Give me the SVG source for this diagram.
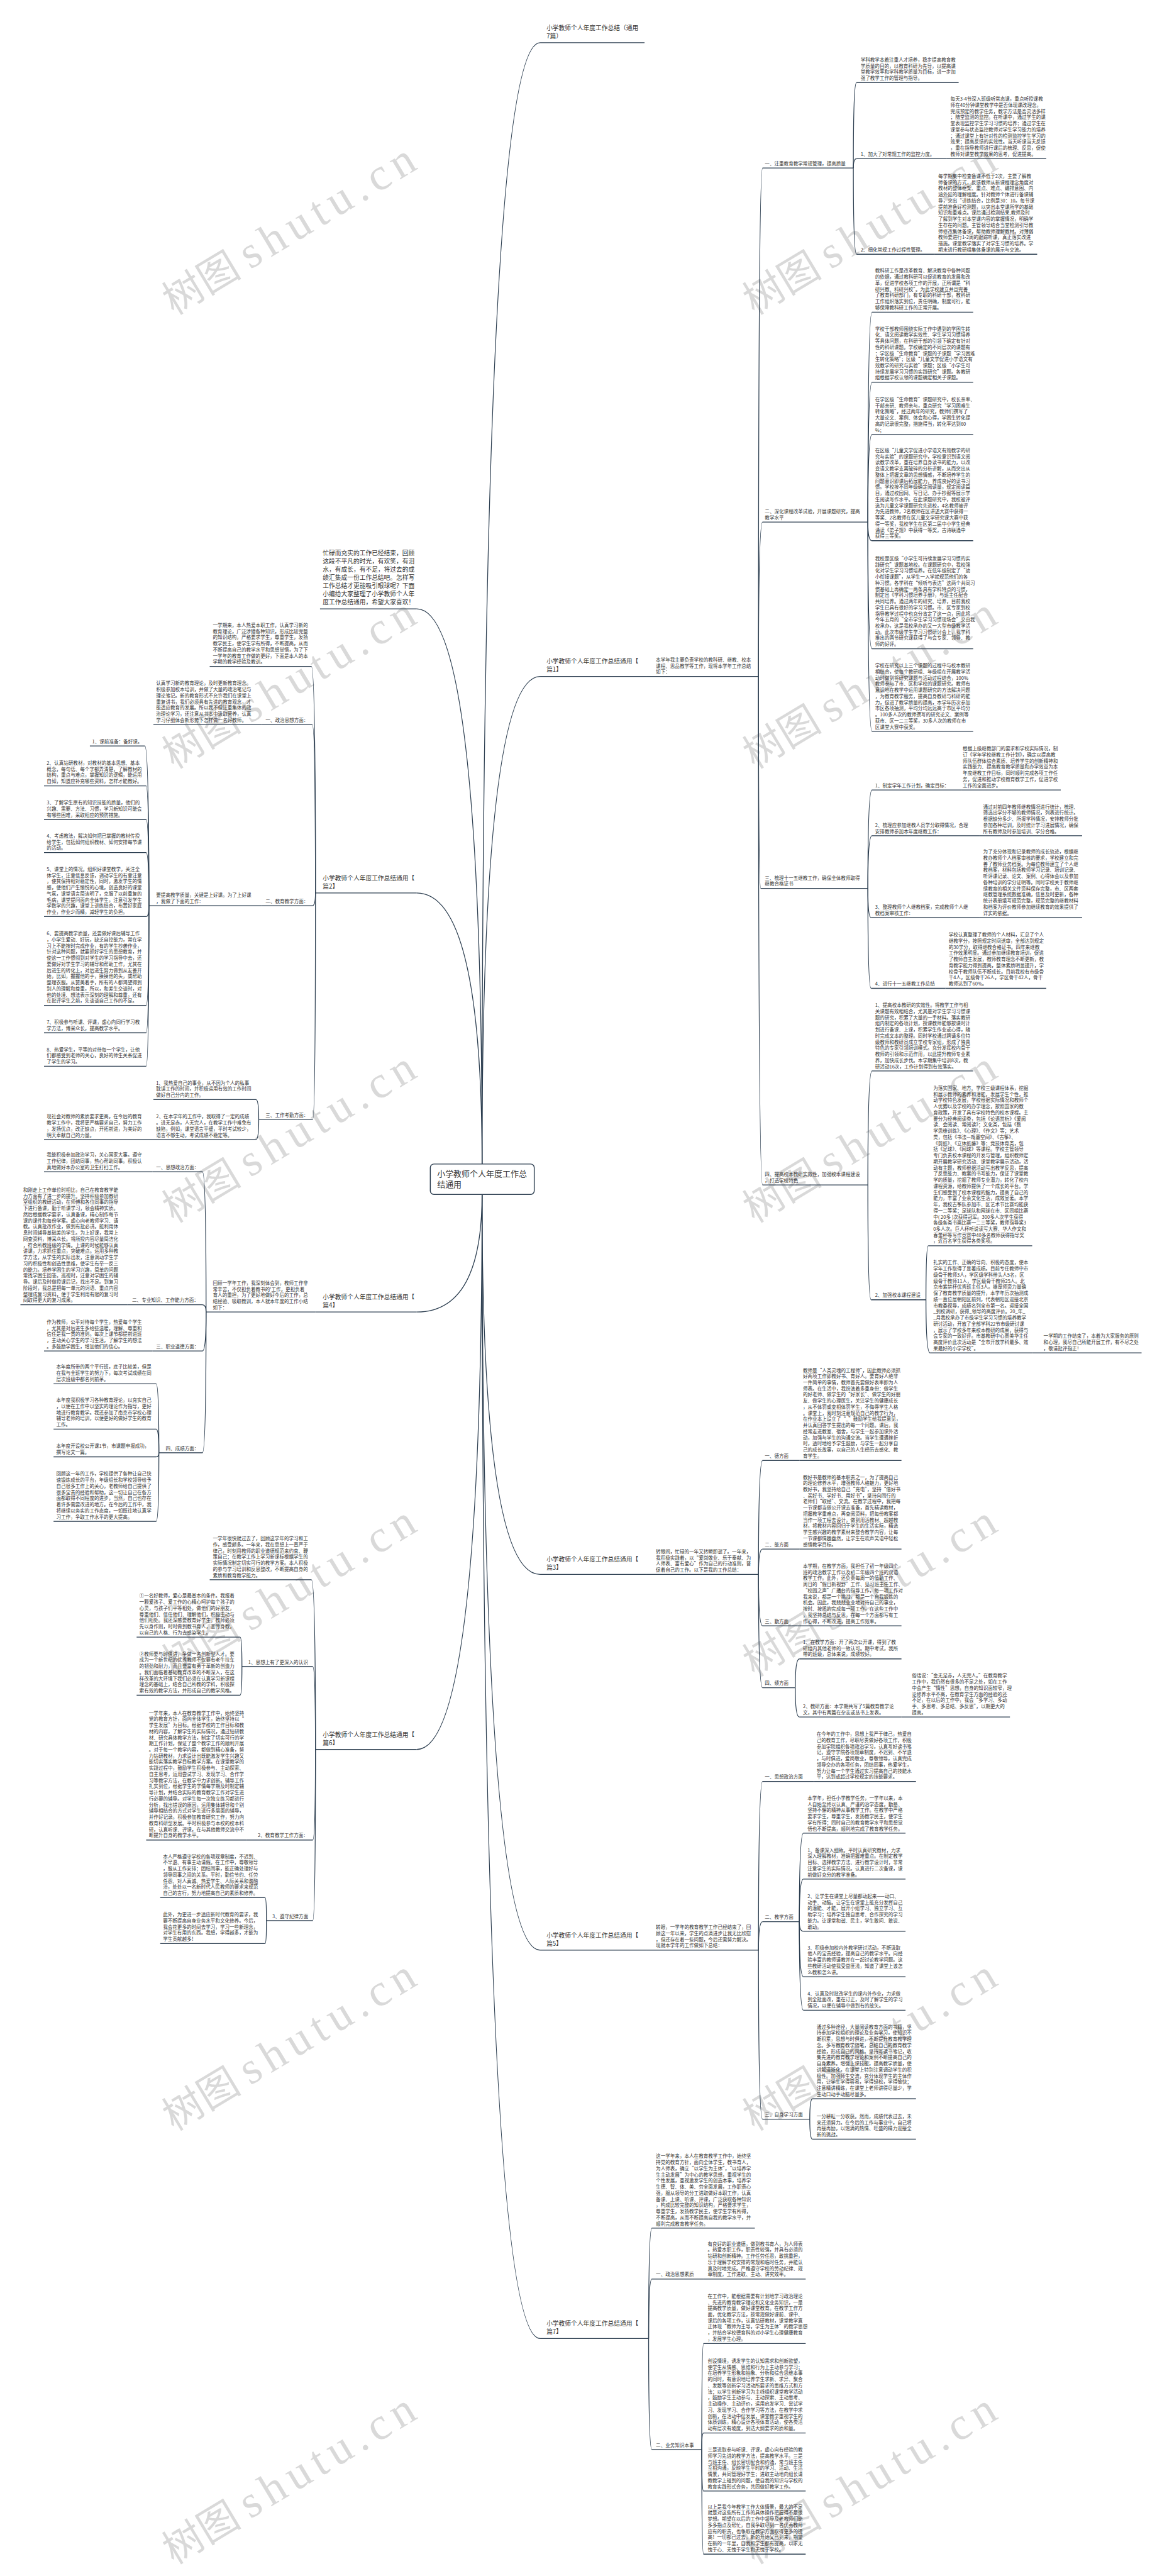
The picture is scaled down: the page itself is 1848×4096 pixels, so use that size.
<svg xmlns="http://www.w3.org/2000/svg" width="1848" height="4096" viewBox="0 0 1848 4096">
<style>
text{font-family:"Noto Sans CJK SC","Noto Sans",sans-serif;fill:#333;font-size:10.5px}
.L{font-size:13.5px}
.C{font-size:18px}
.u,.k{stroke:#2c3e50;stroke-width:1.8;fill:none}
.box{fill:#fff;stroke:#2c3e50;stroke-width:2}
.wm{font-family:"Noto Sans CJK SC",sans-serif;font-size:88px;fill:#d9d9d9}
.wl{font-family:"Liberation Serif",serif;font-size:100px;letter-spacing:14px;fill:#d9d9d9}
</style>
<rect width="1848" height="4096" fill="#fff"/>
<g transform="scale(0.721875)">
<g id="watermark">
<text class="wm" transform="translate(383 695) rotate(-31)">树图<tspan class="wl" dx="20">shutu.cn</tspan></text>
<text class="wm" transform="translate(1662 695) rotate(-31)">树图<tspan class="wl" dx="20">shutu.cn</tspan></text>
<text class="wm" transform="translate(383 1695) rotate(-31)">树图<tspan class="wl" dx="20">shutu.cn</tspan></text>
<text class="wm" transform="translate(1662 1695) rotate(-31)">树图<tspan class="wl" dx="20">shutu.cn</tspan></text>
<text class="wm" transform="translate(383 2695) rotate(-31)">树图<tspan class="wl" dx="20">shutu.cn</tspan></text>
<text class="wm" transform="translate(1662 2695) rotate(-31)">树图<tspan class="wl" dx="20">shutu.cn</tspan></text>
<text class="wm" transform="translate(383 3695) rotate(-31)">树图<tspan class="wl" dx="20">shutu.cn</tspan></text>
<text class="wm" transform="translate(1662 3695) rotate(-31)">树图<tspan class="wl" dx="20">shutu.cn</tspan></text>
<text class="wm" transform="translate(383 4695) rotate(-31)">树图<tspan class="wl" dx="20">shutu.cn</tspan></text>
<text class="wm" transform="translate(1662 4695) rotate(-31)">树图<tspan class="wl" dx="20">shutu.cn</tspan></text>
<text class="wm" transform="translate(383 5650) rotate(-31)">树图<tspan class="wl" dx="20">shutu.cn</tspan></text>
<text class="wm" transform="translate(1662 5650) rotate(-31)">树图<tspan class="wl" dx="20">shutu.cn</tspan></text>
</g>
<g id="connectors" class="k">
<path d="M1062 2564Q1062 94 1190 94"/>
<path d="M1062 2564Q1062 1490 1190 1490"/>
<path d="M1062 2564Q1062 1341 918 1341"/>
<path d="M1062 2564Q1062 1967 918 1967"/>
<path d="M1062 2631Q1062 2890 918 2890"/>
<path d="M1062 2631Q1062 3468 1190 3468"/>
<path d="M1062 2631Q1062 3853.5 918 3853.5"/>
<path d="M1062 2631Q1062 4295.5 1190 4295.5"/>
<path d="M1062 2631Q1062 5151 1190 5151"/>
<path d="M1671 1490Q1671 370 1680 370"/>
<path d="M1671 1490Q1671 1150 1680 1150"/>
<path d="M1671 1490Q1671 1957 1676 1957"/>
<path d="M1671 1490Q1671 2610 1680 2610"/>
<path d="M1880 370Q1880 182 1887 182"/>
<path d="M1880 370Q1880 349.5 1887 349.5"/>
<path d="M1880 370Q1880 560 1887 560"/>
<path d="M1912 1150Q1912 687.5 1921 687.5"/>
<path d="M1912 1150Q1912 842 1921 842"/>
<path d="M1912 1150Q1912 957 1921 957"/>
<path d="M1912 1150Q1912 1191 1921 1191"/>
<path d="M1912 1150Q1912 1429 1921 1429"/>
<path d="M1912 1150Q1912 1611 1921 1611"/>
<path d="M1912 1957Q1912 1740 1921 1740"/>
<path d="M1912 1957Q1912 1841 1921 1841"/>
<path d="M1912 1957Q1912 2021 1919 2021"/>
<path d="M1912 1957Q1912 2177 1919 2177"/>
<path d="M1912 2610Q1912 2359 1921 2359"/>
<path d="M1912 2610Q1912 2863 1919 2863"/>
<path d="M2040 2863Q2040 2744 2045 2744"/>
<path d="M2040 2863Q2040 2980 2049 2980"/>
<path d="M1671 3468Q1671 3217 1680 3217"/>
<path d="M1671 3468Q1671 3412 1680 3412"/>
<path d="M1671 3468Q1671 3581 1680 3581"/>
<path d="M1671 3468Q1671 3717.5 1680 3717.5"/>
<path d="M1752 3717.5Q1752 3654 1761 3654"/>
<path d="M1752 3717.5Q1752 3782 1761 3782"/>
<path d="M1671 4295.5Q1671 3924 1680 3924"/>
<path d="M1671 4295.5Q1671 4233 1680 4233"/>
<path d="M1671 4295.5Q1671 4668 1680 4668"/>
<path d="M1761 4233Q1761 4038 1770 4038"/>
<path d="M1761 4233Q1761 4139 1770 4139"/>
<path d="M1761 4233Q1761 4254 1770 4254"/>
<path d="M1761 4233Q1761 4354 1770 4354"/>
<path d="M1761 4233Q1761 4428 1770 4428"/>
<path d="M1784 4668Q1784 4623 1790 4623"/>
<path d="M1784 4668Q1784 4712 1790 4712"/>
<path d="M1429 5151Q1429 4908 1436 4908"/>
<path d="M1429 5151Q1429 5020 1436 5020"/>
<path d="M1429 5151Q1429 5395.5 1436 5395.5"/>
<path d="M1546 5395.5Q1546 5162 1550 5162"/>
<path d="M1546 5395.5Q1546 5359 1550 5359"/>
<path d="M1546 5395.5Q1546 5487 1550 5487"/>
<path d="M1546 5395.5Q1546 5626 1550 5626"/>
<path d="M695 1967Q695 1468 686 1468"/>
<path d="M695 1967Q695 1596 688 1596"/>
<path d="M695 1967Q695 1995 688 1995"/>
<path d="M695 1967Q695 2465.7 689 2465.7"/>
<path d="M328 1995Q328 1643 319 1643"/>
<path d="M328 1995Q328 1731 322 1731"/>
<path d="M328 1995Q328 1805 322 1805"/>
<path d="M328 1995Q328 1878 322 1878"/>
<path d="M328 1995Q328 2019 322 2019"/>
<path d="M328 1995Q328 2214.5 322 2214.5"/>
<path d="M328 1995Q328 2275 322 2275"/>
<path d="M328 1995Q328 2348.5 322 2348.5"/>
<path d="M570 2465.7Q570 2422 564 2422"/>
<path d="M570 2465.7Q570 2510 564 2510"/>
<path d="M454 2890Q454 2581 446 2581"/>
<path d="M454 2890Q454 2874 446 2874"/>
<path d="M454 2890Q454 2975.7 446 2975.7"/>
<path d="M454 2890Q454 3200 446 3200"/>
<path d="M350 3200Q350 3048 344 3048"/>
<path d="M350 3200Q350 3148 344 3148"/>
<path d="M350 3200Q350 3209 344 3209"/>
<path d="M350 3200Q350 3351 344 3351"/>
<path d="M695 3853.5Q695 3479.6 686 3479.6"/>
<path d="M695 3853.5Q695 3671 689 3671"/>
<path d="M695 3853.5Q695 4053 689 4053"/>
<path d="M695 3853.5Q695 4230.6 689 4230.6"/>
<path d="M533 3671Q533 3606 529 3606"/>
<path d="M533 3671Q533 3734 529 3734"/>
<path d="M587 4230.6Q587 4180 584 4180"/>
<path d="M587 4230.6Q587 4281 584 4281"/>
</g>

<g id="center"><rect class="box" x="948" y="2564" width="229" height="67" rx="8"/><text class="C" x="963" y="2592">小学教师个人年度工作总<tspan x="963" dy="23">结通用</tspan></text></g>

<g id="root1"><text class="L" x="1204" y="66">小学教师个人年度工作总结（通用<tspan x="1204" dy="18">7篇）</tspan></text><path class="u" d="M1190 94H1420"/></g>

<g id="p1"><text class="L" x="1204" y="1462">小学教师个人年度工作总结通用【<tspan x="1204" dy="18">篇1】</tspan></text><path class="u" d="M1190 1490H1424"/></g>
<g id="p1d"><text x="1445" y="1457">本学年我主要负责学校的教科研、继教、校本<tspan x="1445" dy="13.5">课程、思品教学等工作，现将本学年工作总结</tspan><tspan x="1445" dy="13.5">如下：</tspan></text><path class="u" d="M1424 1490H1671"/></g>

<g id="p1a"><text x="1685" y="364">一、注重教育教学常规管理，提高质量</text><path class="u" d="M1680 370H1880"/></g>
<g id="p1a1"><text x="1896" y="135.5">学科教学本着注重人才培养，稳步提高教育教<tspan x="1896" dy="13.5">学质量的目的，以教育科研为先导，以提高课</tspan><tspan x="1896" dy="13.5">堂教学效率和学科教学质量为目标，进一步加</tspan><tspan x="1896" dy="13.5">强了教学工作的管理与指导。</tspan></text><path class="u" d="M1887 182H2112"/></g>
<g id="p1a2"><text x="1896" y="343.5">1、加大了对常规工作的监控力度。</text><path class="u" d="M1887 349.5H2085"/></g>
<g id="p1a2p"><text x="2094" y="222">每天3-4节深入班级听常态课，重点听授课教<tspan x="2094" dy="13.5">师在40分钟课堂教学中是否体现课改理念，</tspan><tspan x="2094" dy="13.5">完成预定的教学任务，教学方法是否灵活多样</tspan><tspan x="2094" dy="13.5">；随堂监测的监控。在听课中，通过学生的课</tspan><tspan x="2094" dy="13.5">堂表现监控学生学习习惯的培养；通过学生在</tspan><tspan x="2094" dy="13.5">课堂参与状态监控教师对学生学习能力的培养</tspan><tspan x="2094" dy="13.5">；通过课堂上有针对性的检测监控学生学习的</tspan><tspan x="2094" dy="13.5">效果；提高反馈的实效性。当天听课当天反馈</tspan><tspan x="2094" dy="13.5">，重在指导教师进行课后的梳理、反思，促使</tspan><tspan x="2094" dy="13.5">教师对课堂教学效果的思考，促进提高。</tspan></text><path class="u" d="M2085 349.5H2305"/></g>
<g id="p1a3"><text x="1896" y="554">2、细化常规工作过程性管理。</text><path class="u" d="M1887 560H2058"/></g>
<g id="p1a3p"><text x="2067" y="392">每学期集中检查备课不低于2次，主要了解教<tspan x="2067" dy="13.5">师备课的方式，反馈教师从新课程理念角度对</tspan><tspan x="2067" dy="13.5">教材的整体框架、重点、难点、编排意图、内</tspan><tspan x="2067" dy="13.5">涵外延的理解程度。针对教师个体进行备课辅</tspan><tspan x="2067" dy="13.5">导，突出“讲练结合，比例是30：10。每节课</tspan><tspan x="2067" dy="13.5">提前准备好检测题，以突出本堂课所学的基础</tspan><tspan x="2067" dy="13.5">知识和重难点。课后通过检测结果,教师及时</tspan><tspan x="2067" dy="13.5">了解到学生对本堂课内容的掌握情况，明确学</tspan><tspan x="2067" dy="13.5">生存在的问题。主管领导结合当堂检测引导教</tspan><tspan x="2067" dy="13.5">师修改集体备课，帮助教师理解教材。对薄弱</tspan><tspan x="2067" dy="13.5">教师要进行1-2周的跟踪听课，真正落实改进</tspan><tspan x="2067" dy="13.5">措施。课堂教学落实了对学生习惯的培养。学</tspan><tspan x="2067" dy="13.5">期末进行教研组集体备课的展示与交流。</tspan></text><path class="u" d="M2058 560H2285"/></g>

<g id="p1b"><text x="1685" y="1130.5">二、深化课程改革试验，开展课题研究，提高<tspan x="1685" dy="13.5">教学水平</tspan></text><path class="u" d="M1680 1150H1912"/></g>
<g id="p1b1"><text x="1928" y="600.5">教科研工作是改革教育、解决教育中各种问题<tspan x="1928" dy="13.5">的依据，通过教科研可以促进教育的发展和改</tspan><tspan x="1928" dy="13.5">革，促进学校各项工作的开展，正所谓是“科</tspan><tspan x="1928" dy="13.5">研兴教、科研兴校”。为此学校建立并且完善</tspan><tspan x="1928" dy="13.5">了教育科研部门，有专职的科研干部，教科研</tspan><tspan x="1928" dy="13.5">工作组织落实到位，责任明确，制度可行，能</tspan><tspan x="1928" dy="13.5">够保障教科研工作的正常开展。</tspan></text><path class="u" d="M1921 687.5H2144"/></g>
<g id="p1b2"><text x="1928" y="728">学校干部教师围绕实际工作中遇到的学困生转<tspan x="1928" dy="13.5">化、语文阅读教学实效性、学生学习习惯培养</tspan><tspan x="1928" dy="13.5">等具体问题，在科研干部的引领下确定有针对</tspan><tspan x="1928" dy="13.5">性的科研课题。学校确定的不同层次的课题有</tspan><tspan x="1928" dy="13.5">；学区级“生命教育”课题的子课题“学习困难</tspan><tspan x="1928" dy="13.5">生转化策略”；区级“儿童文学促进小学语文有</tspan><tspan x="1928" dy="13.5">效教学的研究与实验”课题；区级“小学生可</tspan><tspan x="1928" dy="13.5">持续发展学习习惯的实践研究”课题。各教研</tspan><tspan x="1928" dy="13.5">组根据学校认领的课题确定相关子课题。</tspan></text><path class="u" d="M1921 842H2144"/></g>
<g id="p1b3"><text x="1928" y="883.5">在学区级“生命教育”课题研究中，校长亲率、<tspan x="1928" dy="13.5">干部亲研、教师亲与，重点研究“学习困难生</tspan><tspan x="1928" dy="13.5">转化策略”，经过两年的研究，教师们撰写了</tspan><tspan x="1928" dy="13.5">大量论文、案例、体会和心得，学困生转化提</tspan><tspan x="1928" dy="13.5">高的记录很完整，措施得当，转化率达到60</tspan><tspan x="1928" dy="13.5">%；</tspan></text><path class="u" d="M1921 957H2144"/></g>
<g id="p1b4"><text x="1928" y="996">在区级“儿童文学促进小学语文有效教学的研<tspan x="1928" dy="13.5">究与实验”的课题研究中，学校意识到语文阅</tspan><tspan x="1928" dy="13.5">读教学改革，重在培养自身读书的能力，以改</tspan><tspan x="1928" dy="13.5">变语文教学支离破碎的分析讲解，从而突出从</tspan><tspan x="1928" dy="13.5">整体上把握文章的思想情感，不断培养学生的</tspan><tspan x="1928" dy="13.5">问题意识即课后拓展能力，养成良好的读书习</tspan><tspan x="1928" dy="13.5">惯。学校按不同年级确定阅读量，规定阅读篇</tspan><tspan x="1928" dy="13.5">目，通过校园网、写日记、办手抄报等展示学</tspan><tspan x="1928" dy="13.5">生阅读写作水平。在此课题研究中，我校被评</tspan><tspan x="1928" dy="13.5">选为儿童文学课题研究先进校，4名教师被评</tspan><tspan x="1928" dy="13.5">为先进教师，2名教师在区讲述大赛中获得一</tspan><tspan x="1928" dy="13.5">等奖、2名教师在区儿童文学研究课大赛中获</tspan><tspan x="1928" dy="13.5">得一等奖，我校学生在区第二届中小学生经典</tspan><tspan x="1928" dy="13.5">诵读《弟子规》中获得一等奖，古诗联通中</tspan><tspan x="1928" dy="13.5">获得三等奖。</tspan></text><path class="u" d="M1921 1191H2144"/></g>
<g id="p1b5"><text x="1928" y="1234">我校是区级“小学生可持续发展学习习惯的实<tspan x="1928" dy="13.5">践研究”课题基地校。在课题研究中，我校强</tspan><tspan x="1928" dy="13.5">化对学生学习习惯培养。在低年级制定了“幼</tspan><tspan x="1928" dy="13.5">小衔接课题”，从学生一入学就规范他们的各</tspan><tspan x="1928" dy="13.5">种习惯。各学科在“倾听与表达”这两个共同习</tspan><tspan x="1928" dy="13.5">惯基础上再确定一两条具有学科特点的习惯，</tspan><tspan x="1928" dy="13.5">制定出《学科习惯培养手册》，与班主任配合</tspan><tspan x="1928" dy="13.5">共同培养。通过两年的研究、培养，目前我校</tspan><tspan x="1928" dy="13.5">学生已具有很好的学习习惯。市、区专家到校</tspan><tspan x="1928" dy="13.5">指导教学过程中也充分肯定了这一点，因此将</tspan><tspan x="1928" dy="13.5">今年五月的“全市学生学习习惯现场会”交由我</tspan><tspan x="1928" dy="13.5">校承办，这是我校承办的又一大型市级教学活</tspan><tspan x="1928" dy="13.5">动。此次市级学生学习习惯研讨会上，我学科</tspan><tspan x="1928" dy="13.5">推出的两节研究课获得了与会专家、领导、教</tspan><tspan x="1928" dy="13.5">师的好评。</tspan></text><path class="u" d="M1921 1429H2144"/></g>
<g id="p1b6"><text x="1928" y="1470">学校在研究以上三个课题的过程中与校本教研<tspan x="1928" dy="13.5">相结合，使每个教研组、年级组在开展教学活</tspan><tspan x="1928" dy="13.5">动时做到将研究课题与活动过程结合，100%</tspan><tspan x="1928" dy="13.5">教师参与了市、区和学校的课题研究。教师有</tspan><tspan x="1928" dy="13.5">意识地在教学中运用课题研究的方法解决问题</tspan><tspan x="1928" dy="13.5">，为教育教学服务，提高自身教研与科研的能</tspan><tspan x="1928" dy="13.5">力，促进了教学质量的提高，本学年历次参加</tspan><tspan x="1928" dy="13.5">市区各项抽测，平均分均远远高于市区平均分</tspan><tspan x="1928" dy="13.5">。100多人次的教师撰写的研究论文、案例等</tspan><tspan x="1928" dy="13.5">获市、区一二三等奖，30多人次的教师在市</tspan><tspan x="1928" dy="13.5">区课堂大赛中获奖。</tspan></text><path class="u" d="M1921 1611H2144"/></g>

<g id="p1c"><text x="1685" y="1937.5">三、梳理十一五继教工作，确保全体教师取得<tspan x="1685" dy="13.5">继教合格证书</tspan></text><path class="u" d="M1676 1957H1912"/></g>
<g id="p1c1"><text x="1928" y="1734">1、制定学年工作计划，确定目标：</text><path class="u" d="M1921 1740H2117"/></g>
<g id="p1c1p"><text x="2121" y="1653">根据上级继教部门的要求和学校实际情况，制<tspan x="2121" dy="13.5">订《学年学校继教工作计划》，确定以提高教</tspan><tspan x="2121" dy="13.5">师队伍群体综合素质、培养学生的创新精神和</tspan><tspan x="2121" dy="13.5">实践能力、提高教育教学质量和办学效益为本</tspan><tspan x="2121" dy="13.5">年度继教工作目标，同时顺利完成各项工作任</tspan><tspan x="2121" dy="13.5">务，促进和推动学校教育教学工作，促进学校</tspan><tspan x="2121" dy="13.5">工作的全面进步。</tspan></text><path class="u" d="M2117 1740H2337"/></g>
<g id="p1c2"><text x="1928" y="1821.5">2、梳理应参加继教人员学分取得情况，合理<tspan x="1928" dy="13.5">安排教师参加本年度继教工作：</tspan></text><path class="u" d="M1921 1841H2157"/></g>
<g id="p1c2p"><text x="2166" y="1781">通过对前四年教师继教情况进行统计，梳理、<tspan x="2166" dy="13.5">筛选出学分不够的教师情况，列表进行统计。</tspan><tspan x="2166" dy="13.5">根据缺分多少、所报学科情况，安排教师分批</tspan><tspan x="2166" dy="13.5">参加各种培训，及时统计学习进展情况，确保</tspan><tspan x="2166" dy="13.5">所有教师及时参加培训、学分合格。</tspan></text><path class="u" d="M2157 1841H2384"/></g>
<g id="p1c3"><text x="1928" y="2001.5">3、整理教师个人继教档案，完成教师个人继<tspan x="1928" dy="13.5">教档案审核工作：</tspan></text><path class="u" d="M1919 2021H2157"/></g>
<g id="p1c3p"><text x="2166" y="1880">为了充分体现和记录教师的成长轨迹，根据继<tspan x="2166" dy="13.5">教办教师个人档案审核的要求，学校建立和完</tspan><tspan x="2166" dy="13.5">善了教师业务档案。为每位教师建立了个人继</tspan><tspan x="2166" dy="13.5">教档案，材料包括教师学习记录、培训记录、</tspan><tspan x="2166" dy="13.5">听评课记录、论文、案例、心得体会以及参加</tspan><tspan x="2166" dy="13.5">各种培训的学分证明等。同时学校关于教师继</tspan><tspan x="2166" dy="13.5">续教育的相关文件资料保存完整，市、区两套</tspan><tspan x="2166" dy="13.5">继教管理系统数据准确，信息及时更新，各种</tspan><tspan x="2166" dy="13.5">统计表册填写规范完整，规范完整的继教材料</tspan><tspan x="2166" dy="13.5">和档案为评价教师参加继续教育的效果提供了</tspan><tspan x="2166" dy="13.5">详实的依据。</tspan></text><path class="u" d="M2157 2021H2384"/></g>
<g id="p1c4"><text x="1928" y="2171">4、进行十一五继教工作总结</text><path class="u" d="M1919 2177H2083"/></g>
<g id="p1c4p"><text x="2090" y="2063">学校认真整理了教师的个人材料，汇总了个人<tspan x="2090" dy="13.5">继教学分，按照规定时间送审，全部达到规定</tspan><tspan x="2090" dy="13.5">的30学分，取得继教合格证书。四年来继教</tspan><tspan x="2090" dy="13.5">工作效果明显。通过参加继续教育培训，促进</tspan><tspan x="2090" dy="13.5">了教师自主发展，教师教育理念不断更新，教</tspan><tspan x="2090" dy="13.5">育教学能力得到提高，整体素质明显提升，学</tspan><tspan x="2090" dy="13.5">校骨干教师队伍不断成长。目前我校有市级骨</tspan><tspan x="2090" dy="13.5">干4人，区级骨干26人，学区骨干42人，骨干</tspan><tspan x="2090" dy="13.5">教师达到了60%。</tspan></text><path class="u" d="M2083 2177H2305"/></g>

<g id="p1d0"><text x="1685" y="2590.5">四、提高校本教研实效性，加强校本课程建设<tspan x="1685" dy="13.5">，打造学校特色</tspan></text><path class="u" d="M1680 2610H1912"/></g>
<g id="p1d1"><text x="1928" y="2218">1、提高校本教研的实效性。将教学工作与相<tspan x="1928" dy="13.5">关课题有效相结合，尤其是对学生学习习惯课</tspan><tspan x="1928" dy="13.5">题的研究，积累了大量的一手材料。落实教研</tspan><tspan x="1928" dy="13.5">组内制定的各项计划，授课教师能够按课时计</tspan><tspan x="1928" dy="13.5">划进行备课、上课，积累学生作业或心得，随</tspan><tspan x="1928" dy="13.5">时完成文本的整理。同时学校通过聘请多位特</tspan><tspan x="1928" dy="13.5">级教师和教研员成立学校专家组，形成了独具</tspan><tspan x="1928" dy="13.5">特色的专家引领培训模式。充分发挥校内骨干</tspan><tspan x="1928" dy="13.5">教师的引领和示范作用，以此提升教师专业素</tspan><tspan x="1928" dy="13.5">养，加快成长步伐。本学期集中培训8次，教</tspan><tspan x="1928" dy="13.5">研活动16次，工作计划得到有效落实。</tspan></text><path class="u" d="M1921 2359H2144"/></g>
<g id="p1d2"><text x="1928" y="2857">2、加强校本课程建设</text><path class="u" d="M1919 2863H2040"/></g>
<g id="p1d2a"><text x="2056" y="2400.5">为落实国家、地方、学校三级课程体系，挖掘<tspan x="2056" dy="13.5">和展示教师的素养和潜能，发展学生个性，推</tspan><tspan x="2056" dy="13.5">动学校特色发展，学校根据实际情况和教师个</tspan><tspan x="2056" dy="13.5">人优势以及学校的办学理念，按照国家的教</tspan><tspan x="2056" dy="13.5">育政策，开发了具有学校特色的校本课程。主</tspan><tspan x="2056" dy="13.5">要分为经典阅读类，包括《论语赏析》《爱阅</tspan><tspan x="2056" dy="13.5">读、会阅读、常阅读》；文化类，包括《数</tspan><tspan x="2056" dy="13.5">学思维训练》、《心理》、《作文》等；艺术</tspan><tspan x="2056" dy="13.5">类，包括《书法—戏墨空间》、《古筝》、</tspan><tspan x="2056" dy="13.5">《剪纸》、《立体纸藤》等；竞技体育类，包</tspan><tspan x="2056" dy="13.5">括《足球》、《网球》等课程。学校主管领导</tspan><tspan x="2056" dy="13.5">专门负责校本课程的开发与管理，组织教师定</tspan><tspan x="2056" dy="13.5">期开展教学研究活动、课堂教学展示活动，活</tspan><tspan x="2056" dy="13.5">动有主题，教师根据活动写出教学反思，提高</tspan><tspan x="2056" dy="13.5">了反思能力、教案的书写能力，保证了课堂教</tspan><tspan x="2056" dy="13.5">学的质量，挖掘了教师专业潜力，转化了校内</tspan><tspan x="2056" dy="13.5">课程资源，给教师提供了一个成长的平台。学</tspan><tspan x="2056" dy="13.5">生们感受到了校本课程的魅力，提高了自己的</tspan><tspan x="2056" dy="13.5">能力，丰富了业余文化生活，成效显著。本学</tspan><tspan x="2056" dy="13.5">年，我校古筝队参加市、区艺术节比赛均能获</tspan><tspan x="2056" dy="13.5">得一二等奖；足球队和网球在市、区同组比赛</tspan><tspan x="2056" dy="13.5">中( 20多 )次获得冠军。300多人次学生获得</tspan><tspan x="2056" dy="13.5">各级各类书画比赛一二三等奖，教师指导奖3</tspan><tspan x="2056" dy="13.5">0多人次。巨人杯听说读写大赛、华人作文和</tspan><tspan x="2056" dy="13.5">春蕾杯等写作竞赛中40多名教师获得指导奖</tspan><tspan x="2056" dy="13.5">，近百名学生获得各类奖项。</tspan></text><path class="u" d="M2045 2744H2274"/></g>
<g id="p1d2b"><text x="2056" y="2785">扎实的工作、正确的导向、积极的态度，使本<tspan x="2056" dy="13.5">学年工作取得了显著成绩。目前专任教师中市</tspan><tspan x="2056" dy="13.5">级骨干教师3人，学区级学科带头人5名，区</tspan><tspan x="2056" dy="13.5">级骨干教师11人，学区级骨干教师25人。北</tspan><tspan x="2056" dy="13.5">京市紫禁杯优秀班主任3人。雄厚师资力量确</tspan><tspan x="2056" dy="13.5">保了教育教学质量的提升，本学年历次抽测成</tspan><tspan x="2056" dy="13.5">绩一直位居朝阳区前列，代表朝阳区迎接北京</tspan><tspan x="2056" dy="13.5">市教委视导，成绩名列全市第一名。迎接全国</tspan><tspan x="2056" dy="13.5">_到校调研，获得_领导的高度评价。20_年_</tspan><tspan x="2056" dy="13.5">_月我校承办了市级学生学习习惯的培养教学</tspan><tspan x="2056" dy="13.5">研讨活动，开放了全部学科22节市级研讨课</tspan><tspan x="2056" dy="13.5">，展示了学校多年来校本教研的成果，获得与</tspan><tspan x="2056" dy="13.5">会专家的一致好评。市基教研中心贾美华主任</tspan><tspan x="2056" dy="13.5">高度评价此次活动是“全市开放学科最多、效</tspan><tspan x="2056" dy="13.5">果最好的小学学校”。</tspan></text><path class="u" d="M2049 2980H2274"/></g>
<g id="p1d2c"><text x="2299" y="2947">一学期的工作结束了，本着为大家服务的原则<tspan x="2299" dy="13.5">和心理，我尽自己所能开展工作，有不尽之处</tspan><tspan x="2299" dy="13.5">，敬请批评指正！</tspan></text><path class="u" d="M2274 2980H2515"/></g>

<g id="p3"><text class="L" x="1204" y="3440">小学教师个人年度工作总结通用【<tspan x="1204" dy="18">篇3】</tspan></text><path class="u" d="M1190 3468H1424"/></g>
<g id="p3d"><text x="1445" y="3421.5">转眼间，忙碌的一年又转瞬即逝了。一年来，<tspan x="1445" dy="13.5">我积极实践着，以“爱岗敬业、乐于奉献、为</tspan><tspan x="1445" dy="13.5">人师表、富有爱心”作为自己的行动准则，督</tspan><tspan x="1445" dy="13.5">促着自己的工作。以下是我的工作总结：</tspan></text><path class="u" d="M1424 3468H1671"/></g>
<g id="p3a"><text x="1685" y="3211">一、德方面</text><path class="u" d="M1680 3217H1761"/></g>
<g id="p3ap"><text x="1769" y="3022">教师是“人类灵魂的工程师”，因此教师必须抓<tspan x="1769" dy="13.5">好两项工作即教好书、育好人。要育好人绝非</tspan><tspan x="1769" dy="13.5">一件简单的事情，教师首先要做好表率即为人</tspan><tspan x="1769" dy="13.5">师表。在生活中，我扮演着多重身份：做学生</tspan><tspan x="1769" dy="13.5">的好老师、做学生的“好家长”、做学生的好朋</tspan><tspan x="1769" dy="13.5">友、做学生的心理医生，关注学生的健康成长</tspan><tspan x="1769" dy="13.5">，从不体罚或变相体罚学生，不侮辱学生人格</tspan><tspan x="1769" dy="13.5">。课堂上，我时刻注意规范自己的教学行为，</tspan><tspan x="1769" dy="13.5">在作业本上设立了“_”鼓励学生给我提意见，</tspan><tspan x="1769" dy="13.5">并认真回答学生提出的每一个问题。课后，我</tspan><tspan x="1769" dy="13.5">经常走进教室、宿舍，与学生一起参加课外活</tspan><tspan x="1769" dy="13.5">动，加强与学生的沟通交流。当学生遭遇挫折</tspan><tspan x="1769" dy="13.5">时，适时地给予学生鼓励，与学生一起分享自</tspan><tspan x="1769" dy="13.5">己的成长故事，以自己的人生经历去感化、教</tspan><tspan x="1769" dy="13.5">育学生。</tspan></text><path class="u" d="M1761 3217H1986"/></g>
<g id="p3b"><text x="1685" y="3406">二、能方面</text><path class="u" d="M1680 3412H1761"/></g>
<g id="p3bp"><text x="1769" y="3257.5">教好书是教师的基本职责之一，为了提高自己<tspan x="1769" dy="13.5">的理论修养水平，增强教师人格魅力，更好地</tspan><tspan x="1769" dy="13.5">教好书，我坚持给自己“充电”，坚持“借好书</tspan><tspan x="1769" dy="13.5">、买好书、学好书、用好书”，坚持向同行的</tspan><tspan x="1769" dy="13.5">老师们“取经”、交流。在教学过程中，我把每</tspan><tspan x="1769" dy="13.5">一节课都当做公开课去准备，首先精读教材，</tspan><tspan x="1769" dy="13.5">把握教学重难点，再查阅资料，把每份教案都</tspan><tspan x="1769" dy="13.5">当作一项工程去设计，做到用活教材、超越教</tspan><tspan x="1769" dy="13.5">材，将教材内容回归于学生的生活实际，精选</tspan><tspan x="1769" dy="13.5">学生感兴趣的教学素材来整合教学内容，让每</tspan><tspan x="1769" dy="13.5">一节课都情趣盎然，让学生在欢声笑语中轻松</tspan><tspan x="1769" dy="13.5">感悟教学目标。</tspan></text><path class="u" d="M1761 3412H1986"/></g>
<g id="p3c"><text x="1685" y="3575">三、勤方面</text><path class="u" d="M1680 3581H1761"/></g>
<g id="p3cp"><text x="1769" y="3453.5">本学期，在教学方面，我担任了初一年级四个<tspan x="1769" dy="13.5">班的政治教学工作以及初二年级四个班的双语</tspan><tspan x="1769" dy="13.5">教学工作。此外，还负责每周一的值勤工作、</tspan><tspan x="1769" dy="13.5">周日的“假日新视野”工作、见习班主任工作、</tspan><tspan x="1769" dy="13.5">“校园之声”广播台的指导工作，每一项工作对</tspan><tspan x="1769" dy="13.5">我来说，都是一个挑战，都是一个自我锻炼的</tspan><tspan x="1769" dy="13.5">机会。因此，我兢兢业业地对待自己的事业，</tspan><tspan x="1769" dy="13.5">按时、按质的完成每一项工作，在这些工作中</tspan><tspan x="1769" dy="13.5">，我坚持总结与反思，在每一个方面都写有工</tspan><tspan x="1769" dy="13.5">作心得，不断改进，提高工作效率。</tspan></text><path class="u" d="M1761 3581H1986"/></g>
<g id="p3e"><text x="1685" y="3711.5">四、绩方面</text><path class="u" d="M1680 3717.5H1752"/></g>
<g id="p3e1"><text x="1769" y="3621">1、在教学方面：开了两次公开课，得到了教<tspan x="1769" dy="13.5">研组内其他老师的一致认可。期中考试，我所</tspan><tspan x="1769" dy="13.5">带的班级，总体来说，成绩较好。</tspan></text><path class="u" d="M1761 3654H1986"/></g>
<g id="p3e2"><text x="1769" y="3762.5">2、教研方面：本学期共写了5篇教育教学论<tspan x="1769" dy="13.5">文，其中有两篇在杂志或丛书上发表。</tspan></text><path class="u" d="M1761 3782H1986"/></g>
<g id="p3e2p"><text x="2009" y="3695">俗话说：“金无足赤，人无完人。”在教育教学<tspan x="2009" dy="13.5">工作中，我仍然有很多的不足之处，如在工作</tspan><tspan x="2009" dy="13.5">中会产生“惰性”思想，自身的知识面较窄，理</tspan><tspan x="2009" dy="13.5">论修养水平不高，在教育学生方面的经验的还</tspan><tspan x="2009" dy="13.5">不足，在以后的工作中，我会“多学习、多动</tspan><tspan x="2009" dy="13.5">手、多思考、多总结、多反思”，以期更大的</tspan><tspan x="2009" dy="13.5">提高。</tspan></text><path class="u" d="M1986 3782H2225"/></g>

<g id="p5"><text class="L" x="1204" y="4267.5">小学教师个人年度工作总结通用【<tspan x="1204" dy="18">篇5】</tspan></text><path class="u" d="M1190 4295.5H1424"/></g>
<g id="p5d"><text x="1445" y="4249">转眼，一学年的教育教学工作已经结束了，回<tspan x="1445" dy="13.5">顾这一年以来，学生的点滴进步让我无比欣慰</tspan><tspan x="1445" dy="13.5">，但还存在着一些问题，今后还需努力解决。</tspan><tspan x="1445" dy="13.5">现就本学年的工作做如下总结：</tspan></text><path class="u" d="M1424 4295.5H1671"/></g>
<g id="p5a"><text x="1685" y="3918">一、思想政治方面</text><path class="u" d="M1680 3924H1793"/></g>
<g id="p5ap"><text x="1799" y="3823.5">在今年的工作中，思想上我严于律己，热爱自<tspan x="1799" dy="13.5">己的教育工作，尽职尽责做好各项工作，积极</tspan><tspan x="1799" dy="13.5">参加学院组织各项政治学习，认真写好读书笔</tspan><tspan x="1799" dy="13.5">记，遵守学院各项规章制度，不迟到、不早退</tspan><tspan x="1799" dy="13.5">，与时俱进，爱岗敬业，尊敬领导，认真完成</tspan><tspan x="1799" dy="13.5">领导交办的各项任务，团结同事，热爱学生，</tspan><tspan x="1799" dy="13.5">努力让每一个学生通过实习提高自己的技能水</tspan><tspan x="1799" dy="13.5">平，达到或超过学校规定的技能要求。</tspan></text><path class="u" d="M1793 3924H2018"/></g>
<g id="p5b"><text x="1685" y="4227">二、教学方面</text><path class="u" d="M1680 4233H1761"/></g>
<g id="p5b1"><text x="1779" y="3964.5">本学年，担任小学教学任务，一学年以来，本<tspan x="1779" dy="13.5">人自始至终以认真、严谨的治学态度，勤恳、</tspan><tspan x="1779" dy="13.5">坚持不懈的精神从事教学工作。在教学中严格</tspan><tspan x="1779" dy="13.5">要求学生，尊重学生，发扬教学民主，使学生</tspan><tspan x="1779" dy="13.5">学有所得；同时自己的教育教学水平和思想觉</tspan><tspan x="1779" dy="13.5">悟也不断提高，顺利地完成了教育教学任务。</tspan></text><path class="u" d="M1770 4038H1995"/></g>
<g id="p5b2"><text x="1779" y="4079">1、备课深入细致。平时认真研究教材，力求<tspan x="1779" dy="13.5">深入理解教材，准确把握难重点。在制定教学</tspan><tspan x="1779" dy="13.5">目标、选择教学方法、进行教学设计时，非常</tspan><tspan x="1779" dy="13.5">注意学生的实际情况。认真进行二次备课，课</tspan><tspan x="1779" dy="13.5">前做好充分的教学准备。</tspan></text><path class="u" d="M1770 4139H1995"/></g>
<g id="p5b3"><text x="1779" y="4180.5">2、让学生在课堂上尽量都动起来——动口、<tspan x="1779" dy="13.5">动手、动脑。让学生在课堂上能充分发挥自己</tspan><tspan x="1779" dy="13.5">的潜能、才能，展开小组学习、独立学习、互</tspan><tspan x="1779" dy="13.5">助学习；培养学生独自思考、合作探究的学习</tspan><tspan x="1779" dy="13.5">能力。让课堂和谐、民主，学生敢问、敢说、</tspan><tspan x="1779" dy="13.5">敢动。</tspan></text><path class="u" d="M1770 4254H1995"/></g>
<g id="p5b4"><text x="1779" y="4294">3、积极参加校内外教学研讨活动，不断汲取<tspan x="1779" dy="13.5">他人的宝贵经验，提高自己的教学水平。向经</tspan><tspan x="1779" dy="13.5">验丰富的教师请教并在一起讨论教学问题。这</tspan><tspan x="1779" dy="13.5">些教研活动使我受益匪浅，知道了课堂上该怎</tspan><tspan x="1779" dy="13.5">么教和怎么讲。</tspan></text><path class="u" d="M1770 4354H1995"/></g>
<g id="p5b5"><text x="1779" y="4395">4、认真及时批改学生的课内外作业，力求做<tspan x="1779" dy="13.5">到全批面改，重在订正，及时了解学生的学习</tspan><tspan x="1779" dy="13.5">情况，以便在辅导中做到有的放矢。</tspan></text><path class="u" d="M1770 4428H1995"/></g>
<g id="p5c"><text x="1685" y="4662">三、自身学习方面</text><path class="u" d="M1680 4668H1784"/></g>
<g id="p5c1"><text x="1799" y="4468.5">通过多种途径，大量阅读教育方面的书籍，坚<tspan x="1799" dy="13.5">持参加学校组织的理论及业务学习，使知识不</tspan><tspan x="1799" dy="13.5">断积累，思想与时俱进，不断提升教育教学理</tspan><tspan x="1799" dy="13.5">念。多写教育教学随笔，总结自己的教育教学</tspan><tspan x="1799" dy="13.5">经验，形成自己的风格。坚持写读书笔记，收</tspan><tspan x="1799" dy="13.5">集先进的教育教学理论和案例不断提高自己的</tspan><tspan x="1799" dy="13.5">自身素养。增强上课技能，提高教学质量，使</tspan><tspan x="1799" dy="13.5">讲解清晰化，在课堂上特别注意调动学生的积</tspan><tspan x="1799" dy="13.5">极性。加强师生交流，充分体现学生的主体作</tspan><tspan x="1799" dy="13.5">用，让学生学得容易，学得轻松，学得愉快；</tspan><tspan x="1799" dy="13.5">注意精讲精练，在课堂上老师讲得尽量少，学</tspan><tspan x="1799" dy="13.5">生动口动手动脑尽量多。</tspan></text><path class="u" d="M1790 4623H2018"/></g>
<g id="p5c2"><text x="1799" y="4665.5">一分耕耘一分收获。然而，成绩代表过去，未<tspan x="1799" dy="13.5">来还须努力。在今后的工作与事业中，自己将</tspan><tspan x="1799" dy="13.5">再接再励，以饱满的热情、旺盛的精力迎接全</tspan><tspan x="1799" dy="13.5">新的挑战。</tspan></text><path class="u" d="M1790 4712H2018"/></g>

<g id="p7"><text class="L" x="1204" y="5123">小学教师个人年度工作总结通用【<tspan x="1204" dy="18">篇7】</tspan></text><path class="u" d="M1190 5151H1429"/></g>
<g id="p7a"><text x="1445" y="4753.5">这一学年来，本人在教育教学工作中，始终坚<tspan x="1445" dy="13.5">持党的教育方针，面向全体学生，教书育人，</tspan><tspan x="1445" dy="13.5">为人师表，确立“以学生为主体”，“以培养学</tspan><tspan x="1445" dy="13.5">生主动发展”为中心的教学思想，重视学生的</tspan><tspan x="1445" dy="13.5">个性发展，重视激发学生的创造本事，培养学</tspan><tspan x="1445" dy="13.5">生德、智、体、美、劳全面发展，工作职责心</tspan><tspan x="1445" dy="13.5">强，服从领导的分工进取做好本职工作，认真</tspan><tspan x="1445" dy="13.5">备课、上课、听课、评课，广泛获取各种知识</tspan><tspan x="1445" dy="13.5">，构成比较完整的知识结构，严格要求学生，</tspan><tspan x="1445" dy="13.5">尊重学生，发扬教学民主，使学生学有所得，</tspan><tspan x="1445" dy="13.5">不断提高，从而不断提高自我的教学水平，并</tspan><tspan x="1445" dy="13.5">顺利完成教育教学任务。</tspan></text><path class="u" d="M1436 4908H1663"/></g>
<g id="p7b"><text x="1445" y="5014">一、政治思想素质</text><path class="u" d="M1436 5020H1550"/></g>
<g id="p7bp"><text x="1559" y="4946.5">有良好的职业道德，做到教书育人，为人师表<tspan x="1559" dy="13.5">。热爱本职工作，职责性较强，并具有必须的</tspan><tspan x="1559" dy="13.5">钻研和创新精神。工作任劳任怨，敢挑重担，</tspan><tspan x="1559" dy="13.5">乐于理解学校安排的常规和临时任务，并能认</tspan><tspan x="1559" dy="13.5">真及时地完成。严格遵守学校的劳动纪律、规</tspan><tspan x="1559" dy="13.5">章制度，工作进取、主动、讲究效率。</tspan></text><path class="u" d="M1550 5020H1775"/></g>
<g id="p7c"><text x="1445" y="5389.5">二、业务知识本事</text><path class="u" d="M1436 5395.5H1546"/></g>
<g id="p7c1"><text x="1559" y="5061.5">在工作中，能根据需要有计划地学习政治理论<tspan x="1559" dy="13.5">、先进的教育教学理论和文化业务知识，一是</tspan><tspan x="1559" dy="13.5">提高教学质量，做好课堂教育。在教学工作方</tspan><tspan x="1559" dy="13.5">面，优化教学方法，按常规做好课前、课中、</tspan><tspan x="1559" dy="13.5">课后的各项工作，认真钻研教材，课堂教学真</tspan><tspan x="1559" dy="13.5">正体现“教师为主导，学生为主体”的教学思想</tspan><tspan x="1559" dy="13.5">，并结合学校德育科的对小学生心理健康教育</tspan><tspan x="1559" dy="13.5">，发展学生心理。</tspan></text><path class="u" d="M1550 5162H1775"/></g>
<g id="p7c2"><text x="1559" y="5204.5">创设情境，诱发学生的认知需求和创新欲望，<tspan x="1559" dy="13.5">使学生从情感、思维和行为上主动参与学习；</tspan><tspan x="1559" dy="13.5">在培养学生形象和抽象、分析和综合思维本事</tspan><tspan x="1559" dy="13.5">的同时，有意识地培养学生求新、求异、聚合</tspan><tspan x="1559" dy="13.5">、发散等创新学习活动所要求的思维方式和方</tspan><tspan x="1559" dy="13.5">法；以学生创新学习为主线组织课堂教学活动</tspan><tspan x="1559" dy="13.5">，鼓励学生主动参与、主动探索、主动思考、</tspan><tspan x="1559" dy="13.5">主动操作、主动评价，运用启发学习、尝试学</tspan><tspan x="1559" dy="13.5">习、发现学习、合作学习等方法，在教学中求</tspan><tspan x="1559" dy="13.5">创新，在活动中促发展，课堂教学重视学生的</tspan><tspan x="1559" dy="13.5">体质训练，精心设计各项体育活动，使各类活</tspan><tspan x="1559" dy="13.5">动有层次有坡度，到达大纲要求的质和量。</tspan></text><path class="u" d="M1550 5359H1775"/></g>
<g id="p7c3"><text x="1559" y="5400">三是进取参与听课、评课，虚心向有经验的教<tspan x="1559" dy="13.5">师学习先进的教学方法，提高教学水平。三是</tspan><tspan x="1559" dy="13.5">与班主任、组长密切配合和约通，常与班主任</tspan><tspan x="1559" dy="13.5">互相沟通，反映学生平时的学习、活动、生活</tspan><tspan x="1559" dy="13.5">情景，共同管理好学生；进取主动地向组长请</tspan><tspan x="1559" dy="13.5">教教学上碰到的问题，使自我的知识与学校的</tspan><tspan x="1559" dy="13.5">教育实践形式合务，共同做好教学工作。</tspan></text><path class="u" d="M1550 5487H1775"/></g>
<g id="p7c4"><text x="1559" y="5525.5">以上是我今年教学工作大体情景，最大的不足<tspan x="1559" dy="13.5">就是对这些所有工作的具体操作把握得不是很</tspan><tspan x="1559" dy="13.5">梦想。期望在以后的工作中领导及老教师们能</tspan><tspan x="1559" dy="13.5">多多指点及帮忙，自我争取尽到一名优秀教师</tspan><tspan x="1559" dy="13.5">应有的职责，也争取在教学方面取得更多的提</tspan><tspan x="1559" dy="13.5">高！一切都已过去，新的开始又已到来，期望</tspan><tspan x="1559" dy="13.5">在新的一年里，自我和学生都有提高，以求无</tspan><tspan x="1559" dy="13.5">愧于心、无愧于学生和无愧于学校。</tspan></text><path class="u" d="M1550 5626H1775"/></g>

<g id="intro"><text class="L" x="711" y="1223.6">忙碌而充实的工作已经结束，回顾<tspan x="711" dy="17.9">这段不平凡的时光，有欢笑，有泪</tspan><tspan x="711" dy="17.9">水，有成长，有不足，将过去的成</tspan><tspan x="711" dy="17.9">绩汇集成一份工作总结吧。怎样写</tspan><tspan x="711" dy="17.9">工作总结才更能吸引眼球呢？下面</tspan><tspan x="711" dy="17.9">小编给大家整理了小学教师个人年</tspan><tspan x="711" dy="17.9">度工作总结通用，希望大家喜欢！</tspan></text><path class="u" d="M705 1341H918"/></g>

<g id="p2"><text class="L" x="711" y="1939">小学教师个人年度工作总结通用【<tspan x="711" dy="18">篇2】</tspan></text><path class="u" d="M695 1967H918"/></g>
<g id="p2a0"><text x="469" y="1381">一学期来，本人热爱本职工作，认真学习新的<tspan x="469" dy="13.5">教育理论，广泛涉猎各种知识，形成比较完整</tspan><tspan x="469" dy="13.5">的知识结构，严格要求学生，尊重学生，发扬</tspan><tspan x="469" dy="13.5">教学民主，使学生学有所得，不断提高，从而</tspan><tspan x="469" dy="13.5">不断提高自己的教学水平和思想觉悟，为了下</tspan><tspan x="469" dy="13.5">一学年的教育工作做的更好，下面是本人的本</tspan><tspan x="469" dy="13.5">学期的教学经验及教训。</tspan></text><path class="u" d="M462 1468H686"/></g>
<g id="p2a"><text x="585" y="1590">一、政治思想方面：</text><path class="u" d="M577 1596H688"/></g>
<g id="p2ap"><text x="344" y="1509">认真学习新的教育理论，及时更新教育理念。<tspan x="344" dy="13.5">积极参加校本培训，并做了大量的政治笔记与</tspan><tspan x="344" dy="13.5">理论笔记。新的教育形式不允许我们在课堂上</tspan><tspan x="344" dy="13.5">重复讲书，我们必须具有先进的教育观念，才</tspan><tspan x="344" dy="13.5">能适应教育的发展。所以我不但注重集体的政</tspan><tspan x="344" dy="13.5">治理论学习，还注意从书本中汲取营养，认真</tspan><tspan x="344" dy="13.5">学习仔细体会新形势下怎样做一名好教师。</tspan></text><path class="u" d="M338 1596H577"/></g>
<g id="p2b"><text x="585" y="1989">二、教育教学方面：</text><path class="u" d="M577 1995H688"/></g>
<g id="p2bp"><text x="344" y="1975.5">要提高教学质量，关键是上好课。为了上好课<tspan x="344" dy="13.5">，我做了下面的工作：</tspan></text><path class="u" d="M328 1995H577"/></g>
<g id="p2b1"><text x="203" y="1637">1、课前准备：备好课。</text><path class="u" d="M198 1643H319"/></g>
<g id="p2b2"><text x="103" y="1684.5">2、认真钻研教材，对教材的基本思想、基本<tspan x="103" dy="13.5">概念，每句话、每个字都弄清楚，了解教材的</tspan><tspan x="103" dy="13.5">结构，重点与难点，掌握知识的逻辑，能运用</tspan><tspan x="103" dy="13.5">自如，知道应补充哪些资料，怎样才能教好。</tspan></text><path class="u" d="M97 1731H322"/></g>
<g id="p2b3"><text x="103" y="1772">3、了解学生原有的知识技能的质量，他们的<tspan x="103" dy="13.5">兴趣、需要、方法、习惯，学习新知识可能会</tspan><tspan x="103" dy="13.5">有哪些困难，采取相应的预防措施。</tspan></text><path class="u" d="M97 1805H322"/></g>
<g id="p2b4"><text x="103" y="1845">4、考虑教法，解决如何把已掌握的教材传授<tspan x="103" dy="13.5">给学生，包括如何组织教材、如何安排每节课</tspan><tspan x="103" dy="13.5">的活动。</tspan></text><path class="u" d="M97 1878H322"/></g>
<g id="p2b5"><text x="103" y="1918.5">5、课堂上的情况。组织好课堂教学，关注全<tspan x="103" dy="13.5">体学生，注意信息反馈，调动学生的有意注意</tspan><tspan x="103" dy="13.5">，使其保持相对稳定性，同时，激发学生的情</tspan><tspan x="103" dy="13.5">感，使他们产生愉悦的心境，创造良好的课堂</tspan><tspan x="103" dy="13.5">气氛，课堂语言简洁明了，克服了以前重复的</tspan><tspan x="103" dy="13.5">毛病，课堂提问面向全体学生，注意引发学生</tspan><tspan x="103" dy="13.5">学数学的兴趣，课堂上讲练结合，布置好家庭</tspan><tspan x="103" dy="13.5">作业，作业少而精，减轻学生的负担。</tspan></text><path class="u" d="M97 2019H322"/></g>
<g id="p2b6"><text x="103" y="2060">6、要提高教学质量，还要做好课后辅导工作<tspan x="103" dy="13.5">，小学生爱动、好玩，缺乏自控能力，常在学</tspan><tspan x="103" dy="13.5">习上不能按时完成作业，有的学生抄袭作业，</tspan><tspan x="103" dy="13.5">针对这种问题，就要抓好学生的思想教育，并</tspan><tspan x="103" dy="13.5">使这一工作惯彻到对学生的学习指导中去，还</tspan><tspan x="103" dy="13.5">要做好对学生学习的辅导和帮助工作，尤其在</tspan><tspan x="103" dy="13.5">后进生的转化上，对后进生努力做到从友善开</tspan><tspan x="103" dy="13.5">始，比如，握握他的手，摸摸他的头，或帮助</tspan><tspan x="103" dy="13.5">整理衣服。从赞美着手，所有的人都渴望得到</tspan><tspan x="103" dy="13.5">别人的理解和尊重，所以，和差生交谈时，对</tspan><tspan x="103" dy="13.5">他的处境、想法表示深刻的理解和尊重，还有</tspan><tspan x="103" dy="13.5">在批评学生之前，先谈谈自己工作的不足。</tspan></text><path class="u" d="M97 2214.5H322"/></g>
<g id="p2b7"><text x="103" y="2255.5">7、积极参与听课、评课，虚心向同行学习教<tspan x="103" dy="13.5">学方法，博采众长，提高教学水平。</tspan></text><path class="u" d="M97 2275H322"/></g>
<g id="p2b8"><text x="103" y="2315.5">8、热爱学生，平等的对待每一个学生，让他<tspan x="103" dy="13.5">们都感受到老师的关心，良好的师生关系促进</tspan><tspan x="103" dy="13.5">了学生的学习。</tspan></text><path class="u" d="M97 2348.5H322"/></g>
<g id="p2c"><text x="585" y="2459.7">三、工作考勤方面：</text><path class="u" d="M570 2465.7H689"/></g>
<g id="p2c1"><text x="344" y="2389">1、我热爱自己的事业，从不因为个人的私事<tspan x="344" dy="13.5">耽误工作的时间，并积极运用有效的工作时间</tspan><tspan x="344" dy="13.5">做好自己分内的工作。</tspan></text><path class="u" d="M338 2422H564"/></g>
<g id="p2c2"><text x="344" y="2463.5">2、在本学年的工作中，我取得了一定的成绩<tspan x="344" dy="13.5">。进无足赤，人无完人，在教学工作中难免有</tspan><tspan x="344" dy="13.5">缺陷，例如，课堂语言平缓，平时考试较少，</tspan><tspan x="344" dy="13.5">语言不够生动，考试成绩不稳定等。</tspan></text><path class="u" d="M338 2510H564"/></g>
<g id="p2c2p"><text x="103" y="2463.5">现社会对教师的素质要求更高，在今后的教育<tspan x="103" dy="13.5">教学工作中，我将更严格要求自己，努力工作</tspan><tspan x="103" dy="13.5">，发扬优点，改正缺点，开拓前进，为美好的</tspan><tspan x="103" dy="13.5">明天奉献自己的力量。</tspan></text><path class="u" d="M97 2510H338"/></g>

<g id="p4"><text class="L" x="711" y="2862">小学教师个人年度工作总结通用【<tspan x="711" dy="18">篇4】</tspan></text><path class="u" d="M695 2890H918"/></g>
<g id="p4d"><text x="469" y="2830">回顾一学年工作，我深刻体会到，教师工作非<tspan x="469" dy="13.5">常辛苦，不仅担负着教书的'工作，更担负着</tspan><tspan x="469" dy="13.5">育人的重担，为了更好地做好今后的工作，总</tspan><tspan x="469" dy="13.5">结经验、吸取教训，本人就本年度的工作小结</tspan><tspan x="469" dy="13.5">如下：</tspan></text><path class="u" d="M454 2890H695"/></g>
<g id="p4a"><text x="344" y="2575">一、思想政治方面：</text><path class="u" d="M336 2581H446"/></g>
<g id="p4ap"><text x="103" y="2548">我能积极参加政治学习，关心国家大事。遵守<tspan x="103" dy="13.5">工作纪律，团结同事，热心帮助同事。积极认</tspan><tspan x="103" dy="13.5">真地做好本办公室的卫生打扫工作。</tspan></text><path class="u" d="M97 2581H336"/></g>
<g id="p4b"><text x="291" y="2868">二、专业知识、工作能力方面：</text><path class="u" d="M281 2874H446"/></g>
<g id="p4bp"><text x="51" y="2625">和刚走上工作单位时相比，自己在教育教学能<tspan x="51" dy="13.5">力方面有了进一步的提升。坚持积极参加教研</tspan><tspan x="51" dy="13.5">室组织的教研活动，在师傅和各位同事的指导</tspan><tspan x="51" dy="13.5">下进行备课，勤于听课学习，领会精神实质。</tspan><tspan x="51" dy="13.5">然后根据教学要求，认真备课，精心制作每节</tspan><tspan x="51" dy="13.5">课的课件和每份学案。虚心向老教师学习、请</tspan><tspan x="51" dy="13.5">教。认真批改作业，做到有批必讲。能利用休</tspan><tspan x="51" dy="13.5">息时间辅导基础差的学生。为上好课，我常上</tspan><tspan x="51" dy="13.5">网查资料，博采众长。将所授内容尽量简洁化</tspan><tspan x="51" dy="13.5">，符合所教班级的学情。上课的时候能够认真</tspan><tspan x="51" dy="13.5">讲课，力求抓住重点，突破难点。运用多种教</tspan><tspan x="51" dy="13.5">学方法，从学生的实际出发，注意调动学生学</tspan><tspan x="51" dy="13.5">习的积极性和创造性思维，使学生有举一反三</tspan><tspan x="51" dy="13.5">的能力。培养学困生的学习兴趣，简单的问题</tspan><tspan x="51" dy="13.5">常找学困生回答。巡视时，注意对学困生的辅</tspan><tspan x="51" dy="13.5">导。课后及时做授课后记，找出不足。到复习</tspan><tspan x="51" dy="13.5">阶段时，我总是把每一单元的词语、重点内容</tspan><tspan x="51" dy="13.5">整理成复习资料，便于学生利用有限的复习时</tspan><tspan x="51" dy="13.5">间取得更大的复习成果。</tspan></text><path class="u" d="M45 2874H281"/></g>
<g id="p4c"><text x="344" y="2969.7">三、职业道德方面：</text><path class="u" d="M336 2975.7H446"/></g>
<g id="p4cp"><text x="103" y="2915.7">作为教师，公平对待每个学生，热爱每个学生<tspan x="103" dy="13.5">，尤其是对后进生多给些温暖，理解、尊重和</tspan><tspan x="103" dy="13.5">信任是我一贯的准则。每次上课节都提前进班</tspan><tspan x="103" dy="13.5">，主动关心学生的学习生活，了解学生的想法</tspan><tspan x="103" dy="13.5">。多鼓励学困生，增加他们的信心。</tspan></text><path class="u" d="M97 2975.7H336"/></g>
<g id="p4e"><text x="365" y="3194">四、成绩方面：</text><path class="u" d="M350 3200H446"/></g>
<g id="p4e1"><text x="124" y="3015">本年度所带的两个平行班，底子比较差，但是<tspan x="124" dy="13.5">在我与全班学生的努力下，每次考试成绩在同</tspan><tspan x="124" dy="13.5">层次班级中都名列前茅。</tspan></text><path class="u" d="M118 3048H344"/></g>
<g id="p4e2"><text x="124" y="3088">本年度我积极学习各种教育理论，以充实自己<tspan x="124" dy="13.5">，以便在工作中以坚实的理论作为指导，更好</tspan><tspan x="124" dy="13.5">地进行教育教学。我还参加了南京市学校心理</tspan><tspan x="124" dy="13.5">辅导老师的培训，以便更好的做好学生的教育</tspan><tspan x="124" dy="13.5">工作。</tspan></text><path class="u" d="M118 3148H344"/></g>
<g id="p4e3"><text x="124" y="3189.5">本年度开设校公开课1节，市课题申报成功，<tspan x="124" dy="13.5">撰写论文一篇。</tspan></text><path class="u" d="M118 3209H344"/></g>
<g id="p4e4"><text x="124" y="3250.5">回顾这一年的工作，学校提供了各种让自己快<tspan x="124" dy="13.5">速锻炼成长的平台，年级组长和学校领导给予</tspan><tspan x="124" dy="13.5">自己很多工作上的关心，老教师给自己提供了</tspan><tspan x="124" dy="13.5">很多宝贵的经验和帮助，这一切让自己在各方</tspan><tspan x="124" dy="13.5">面都取得不同程度的进步，当然，自己也存在</tspan><tspan x="124" dy="13.5">着许多需要改进的地方。在今后的工作中，我</tspan><tspan x="124" dy="13.5">将继续以务实的工作态度，一如既往地认真学</tspan><tspan x="124" dy="13.5">习工作，争取工作水平的更大提高。</tspan></text><path class="u" d="M118 3351H344"/></g>

<g id="p6"><text class="L" x="711" y="3825.5">小学教师个人年度工作总结通用【<tspan x="711" dy="18">篇6】</tspan></text><path class="u" d="M695 3853.5H918"/></g>
<g id="p6a0"><text x="469" y="3392.6">一学年很快就过去了，回顾这学年的学习和工<tspan x="469" dy="13.5">作，感受颇多。一年来，我在思想上一直严于</tspan><tspan x="469" dy="13.5">律己，时刻用教师的职业道德规范来约束、鞭</tspan><tspan x="469" dy="13.5">策自己；在教学工作上学习新课标根据学生的</tspan><tspan x="469" dy="13.5">实际情况制定切实可行的教学方案。本人积极</tspan><tspan x="469" dy="13.5">的参与学习培训和反思整改，不断提高自身的</tspan><tspan x="469" dy="13.5">素质和教育教学能力。</tspan></text><path class="u" d="M462 3479.6H686"/></g>
<g id="p6a"><text x="547" y="3665">1、思想上有了更深入的认识</text><path class="u" d="M533 3671H689"/></g>
<g id="p6a1"><text x="307" y="3519">①一名好教师，爱心是最基本的条件。我报着<tspan x="307" dy="13.5">一颗爱孩子、爱工作的心精心呵护每个孩子的</tspan><tspan x="307" dy="13.5">心灵，与孩子们平等相处，做他们的好朋友，</tspan><tspan x="307" dy="13.5">尊重他们、信任他们、理解他们，积极主动与</tspan><tspan x="307" dy="13.5">他们相处。我还深感要教育好学生，教师必须</tspan><tspan x="307" dy="13.5">先以身作则，时时做到教书育人，言传身教，</tspan><tspan x="307" dy="13.5">以自己的人格、行为去感染学生。</tspan></text><path class="u" d="M301 3606H529"/></g>
<g id="p6a2"><text x="307" y="3647">②教师要与时俱进，争做一名创新型人才。要<tspan x="307" dy="13.5">成为一个新世纪的优秀教师不仅要有老牛拉车</tspan><tspan x="307" dy="13.5">的韧劲和耐力，而且要富有勇于革新的创造力</tspan><tspan x="307" dy="13.5">。我们面临着基础教育改革的不断深入，在这</tspan><tspan x="307" dy="13.5">样改革的大环境下我们必须在认真学习新课程</tspan><tspan x="307" dy="13.5">理念的基础上，结合自己所教的学科，积极探</tspan><tspan x="307" dy="13.5">索有效的教学方法，并形成自己的教学风格。</tspan></text><path class="u" d="M301 3734H529"/></g>
<g id="p6b"><text x="568" y="4047">2、教育教学工作方面：</text><path class="u" d="M542 4053H689"/></g>
<g id="p6bp"><text x="328" y="3777">一学年来，本人在教育教学工作中，始终坚持<tspan x="328" dy="13.5">党的教育方针，面向全体学生，始终坚持以“</tspan><tspan x="328" dy="13.5">学生发展”为目标。根据学校的工作目标和教</tspan><tspan x="328" dy="13.5">材的内容，了解学生的实际情况，通过钻研教</tspan><tspan x="328" dy="13.5">材、研究具体教学方法，制定了切实可行的学</tspan><tspan x="328" dy="13.5">期工作计划，保证了整个教学工作的顺利开展</tspan><tspan x="328" dy="13.5">。对于每一个教学内容，都做到精心准备，努</tspan><tspan x="328" dy="13.5">力钻研教材，力求设计出既能激发学生兴趣又</tspan><tspan x="328" dy="13.5">能切实落实教学目标教学方案。在课堂教学的</tspan><tspan x="328" dy="13.5">实践过程中，鼓励学生积极参与、主动探索、</tspan><tspan x="328" dy="13.5">自主思考，运用尝试学习、发现学习、合作学</tspan><tspan x="328" dy="13.5">习等教学方法，在教学中力求创新。辅导工作</tspan><tspan x="328" dy="13.5">扎实到位，根据学生的学情每学期及时制定辅</tspan><tspan x="328" dy="13.5">导计划，并结合实际的教育教学工作对学生进</tspan><tspan x="328" dy="13.5">行必要的辅导。对学生每一次独立练习都进行</tspan><tspan x="328" dy="13.5">分析，找出错误的原因，运用集体辅导和个别</tspan><tspan x="328" dy="13.5">辅导相结合的方式对学生进行多层面的辅导，</tspan><tspan x="328" dy="13.5">并作好记录。积极参加教育研究工作，努力向</tspan><tspan x="328" dy="13.5">教育科研型发展。平时积极参与本校的校本科</tspan><tspan x="328" dy="13.5">研，认真听课、评课，在与其他教师交流中不</tspan><tspan x="328" dy="13.5">断提升自身的教学水平。</tspan></text><path class="u" d="M322 4053H542"/></g>
<g id="p6c"><text x="600" y="4224.6">3、遵守纪律方面</text><path class="u" d="M587 4230.6H689"/></g>
<g id="p6c1"><text x="359" y="4093">本人严格遵守学校的各项规章制度，不迟到、<tspan x="359" dy="13.5">不早退、有事主动请假。在工作中，尊敬领导</tspan><tspan x="359" dy="13.5">，服从工作安排；团结同事，能正确处理好与</tspan><tspan x="359" dy="13.5">领导同事之间的关系。平时，勤俭节约、任劳</tspan><tspan x="359" dy="13.5">任怨、对人真诚、热爱学生、人际关系和谐融</tspan><tspan x="359" dy="13.5">洽，处处以一名新时代人民教师的要求来规范</tspan><tspan x="359" dy="13.5">自己的言行，努力地提高自己的素质和修养。</tspan></text><path class="u" d="M353 4180H584"/></g>
<g id="p6c2"><text x="359" y="4221">此外，为更进一步适应新时代教育的要求，我<tspan x="359" dy="13.5">要不断提高自身业务水平和文化修养。今后，</tspan><tspan x="359" dy="13.5">我会花更多的时间去学习，学习一些新理念，</tspan><tspan x="359" dy="13.5">对学生有用的东西。我想，学得越多，才能为</tspan><tspan x="359" dy="13.5">学生贡献越多！</tspan></text><path class="u" d="M353 4281H584"/></g>
</g>
</svg>
